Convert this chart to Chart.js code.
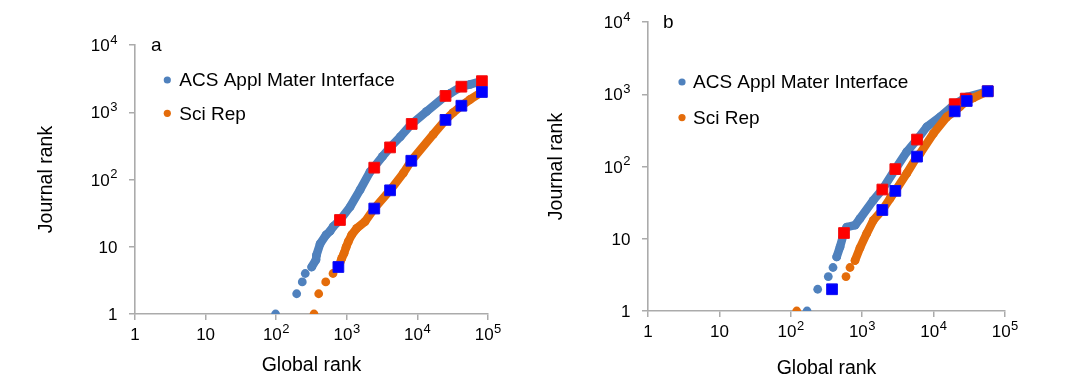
<!DOCTYPE html>
<html>
<head>
<meta charset="utf-8">
<script src="https://cdn.jsdelivr.net/npm/chart.js@4/dist/chart.umd.min.js"></script>
<style>
  html, body { margin: 0; padding: 0; background: #fff; }
  #wrap { position: relative; width: 1067px; height: 385px; overflow: hidden; }
  canvas { position: absolute; top: 0; }
  #cA { left: 0; }
  #cB { left: 533px; }
</style>
</head>
<body>
<div id="wrap">
  <canvas id="cA" width="533" height="385"></canvas>
  <canvas id="cB" width="534" height="385"></canvas>
</div>
<script>
// ---------- data (global rank, journal rank) ----------
const seriesNames = ['ACS Appl Mater Interface', 'Sci Rep'];

const xTickValues = [1, 10, 100, 1000, 10000, 100000];
const xTickLabels = ['1', '10', '10²', '10³', '10⁴', '10⁵'];
const yTickValues = [1, 10, 100, 1000, 10000];
const yTickLabels = ['1', '10', '10²', '10³', '10⁴'];

// Panel a
const acsA = [[98,1],[195,2],[234,3],[258,4],[318,5],[366,6.4],[372,7.5],[418,11],[509,15],[578,17],[643,20],[800,25],[1110,39],[1540,70],[2130,130],[2450,155],[3200,220],[4100,300],[5700,430],[8300,670],[13500,1030],[25000,1750],[29000,1900],[42000,2400],[56000,2600],[82000,2900]];
const sciA = [[343,1],[400,2],[503,3],[638,4],[760,5],[847,6.7],[913,8],[975,9.8],[1050,11.9],[1172,15],[1380,18.8],[1810,23.6],[2450,37],[4100,69],[6300,124],[8200,190],[16800,470],[25000,770],[32000,985],[42000,1250],[56000,1550],[82000,2000]];
const redA  = [[800,25],[2450,150],[4100,300],[8300,670],[25000,1750],[42000,2400],[82000,2900]];
const blueA = [[760,5],[2450,37],[4100,69],[8200,190],[25000,770],[42000,1250],[82000,2000]];

// Panel b
const acsB = [[169,1],[238,2],[335,3],[390,4],[439,5.6],[489,7.7],[556,12.2],[607,14.5],[795,15.4],[930,19],[1430,34],[1915,48],[2910,92],[4200,159],[5860,236],[8000,352],[12300,484],[19750,726],[29100,916],[57300,1100]];
const sciB = [[121,1],[380,2],[593,3],[675,4],[793,5],[932,7.5],[1155,11.8],[1432,18],[1915,25],[2450,36],[2910,46],[4200,80],[5860,137],[6460,151],[9900,285],[15250,484],[19750,580],[23400,675],[29100,807],[36000,890],[57300,1100]];
const redB  = [[556,12],[1915,48],[2910,92],[5860,236],[19750,730],[28200,870],[57300,1100]];
const blueB = [[378,2],[1915,25],[2910,46],[5860,137],[19750,580],[29100,807],[57300,1100]];

// ---------- styling ----------
const FONT = '"Liberation Sans", Arial, sans-serif';
const C_ACS = '#4F81BD';
const C_SCI = '#E46C0A';
const AXIS = '#ABABAB';
const SUP = {'⁰':'0','¹':'1','²':'2','³':'3','⁴':'4','⁵':'5','⁶':'6','⁷':'7','⁸':'8','⁹':'9'};

const toXY = arr => arr.map(p => ({x: p[0], y: p[1]}));

// split a tick label like "10⁴" into base "10" and exponent "4"
function splitLabel(lbl) {
  let base = '', exp = '';
  for (const ch of lbl) { if (SUP[ch]) exp += SUP[ch]; else base += ch; }
  return {base, exp};
}

function drawTickLabel(ctx, lbl, x, y, align) {
  const {base, exp} = splitLabel(lbl);
  const fb = '17px ' + FONT, fe = '13px ' + FONT;
  ctx.font = fb; const wb = ctx.measureText(base).width;
  ctx.font = fe; const we = exp ? ctx.measureText(exp).width + 0.5 : 0;
  const w = wb + we;
  const x0 = align === 'right' ? x - w : x - w / 2;
  ctx.textAlign = 'left';
  ctx.textBaseline = 'alphabetic';
  ctx.font = fb;
  ctx.fillText(base, x0, y + 6);
  if (exp) { ctx.font = fe; ctx.fillText(exp, x0 + wb + 0.5, y - 1.3); }
}

const overlay = {
  id: 'overlay',
  afterDraw(chart, args, o) {
    const ctx = chart.ctx;
    const ca = chart.chartArea;
    ctx.save();
    ctx.fillStyle = '#000';
    // tick labels with superscripts, placed by the library's scales
    const xs = chart.scales.x, ys = chart.scales.y;
    xTickValues.forEach((v, i) => drawTickLabel(ctx, xTickLabels[i], xs.getPixelForValue(v), ca.bottom + 20, 'center'));
    yTickValues.forEach((v, i) => drawTickLabel(ctx, yTickLabels[i], ca.left - 17.5, ys.getPixelForValue(v), 'right'));
    // panel letter
    ctx.textBaseline = 'middle';
    ctx.textAlign = 'left';
    ctx.font = '19px ' + FONT;
    ctx.fillText(o.letter, o.letterX, o.letterY);
    // legend
    o.items.forEach((idx, i) => {
      const ds = chart.data.datasets[idx];
      const y = o.legendY + i * o.legendGap;
      ctx.beginPath();
      ctx.fillStyle = ds.backgroundColor;
      ctx.arc(o.legendX, y, 3.6, 0, Math.PI * 2);
      ctx.fill();
      ctx.fillStyle = '#000';
      ctx.font = '19px ' + FONT;
      ctx.fillText(ds.label, o.legendX + o.textGap, y + 1);
    });
    ctx.restore();
  }
};

function scaleOpts(min, max, values, labels, isY, sizeFix, titleText) {
  return {
    type: 'logarithmic',
    min: min, max: max,
    afterBuildTicks: s => { s.ticks = values.map(v => ({value: v})); },
    afterFit: s => { if (isY) s.width = sizeFix; else s.height = sizeFix; },
    ticks: {
      autoSkip: false,
      maxRotation: 0,
      padding: 8,
      color: 'rgba(0,0,0,0)',
      font: {family: FONT, size: 17},
      callback: v => { const k = values.indexOf(v); return k >= 0 ? labels[k] : ''; }
    },
    grid: {display: true, drawOnChartArea: false, drawTicks: true, tickLength: 6, color: AXIS, lineWidth: 1.5},
    border: {display: true, color: AXIS, width: 1.6},
    title: {display: true, text: titleText, color: '#000', padding: 0, font: {family: FONT, size: 19.5}}
  };
}

function makeChart(id, acs, sci, red, blue, layout, ov) {
  const lineSeg = {borderColor: c => (c.p0.parsed.y < 5 ? 'rgba(0,0,0,0)' : undefined)};
  return new Chart(document.getElementById(id), {
    type: 'scatter',
    data: {
      datasets: [
        {label: 'highlight blue', data: toXY(blue), backgroundColor: '#0000FF', borderColor: '#1010F0', borderWidth: 1, pointStyle: 'rect', pointRadius: 7.6, showLine: false},
        {label: 'highlight red', data: toXY(red), backgroundColor: '#FF0000', borderColor: '#F01010', borderWidth: 1, pointStyle: 'rect', pointRadius: 7.6, showLine: false},
        {label: seriesNames[1], data: toXY(sci), backgroundColor: C_SCI, borderColor: C_SCI, pointRadius: 4.4, pointBorderWidth: 0, showLine: true, borderWidth: 8.5, borderCapStyle: 'round', borderJoinStyle: 'round', tension: 0, segment: lineSeg},
        {label: seriesNames[0], data: toXY(acs), backgroundColor: C_ACS, borderColor: C_ACS, pointRadius: 4.4, pointBorderWidth: 0, showLine: true, borderWidth: 8.5, borderCapStyle: 'round', borderJoinStyle: 'round', tension: 0, segment: lineSeg}
      ]
    },
    options: {
      responsive: false,
      animation: false,
      devicePixelRatio: 1,
      layout: {padding: layout.pad},
      plugins: {legend: {display: false}, tooltip: {enabled: false}, overlay: ov},
      scales: {
        x: scaleOpts(1, 100000, xTickValues, xTickLabels, false, layout.xh, 'Global rank'),
        y: scaleOpts(1, 10000, yTickValues, yTickLabels, true, layout.yw, 'Journal rank')
      }
    },
    plugins: [overlay]
  });
}

makeChart('cA', acsA, sciA, redA, blueA,
  {pad: {left: 35, top: 45, right: 45, bottom: 8}, yw: 100, xh: 63},
  {letter: 'a', letterX: 151, letterY: 46, legendX: 167.3, legendY: 80, legendGap: 33.3, textGap: 12, items: [3, 2]});

makeChart('cB', acsB, sciB, redB, blueB,
  {pad: {left: 12, top: 22, right: 62, bottom: 5}, yw: 103, xh: 69},
  {letter: 'b', letterX: 130, letterY: 23, legendX: 149, legendY: 82, legendGap: 35.6, textGap: 11, items: [3, 2]});
</script>
</body>
</html>
